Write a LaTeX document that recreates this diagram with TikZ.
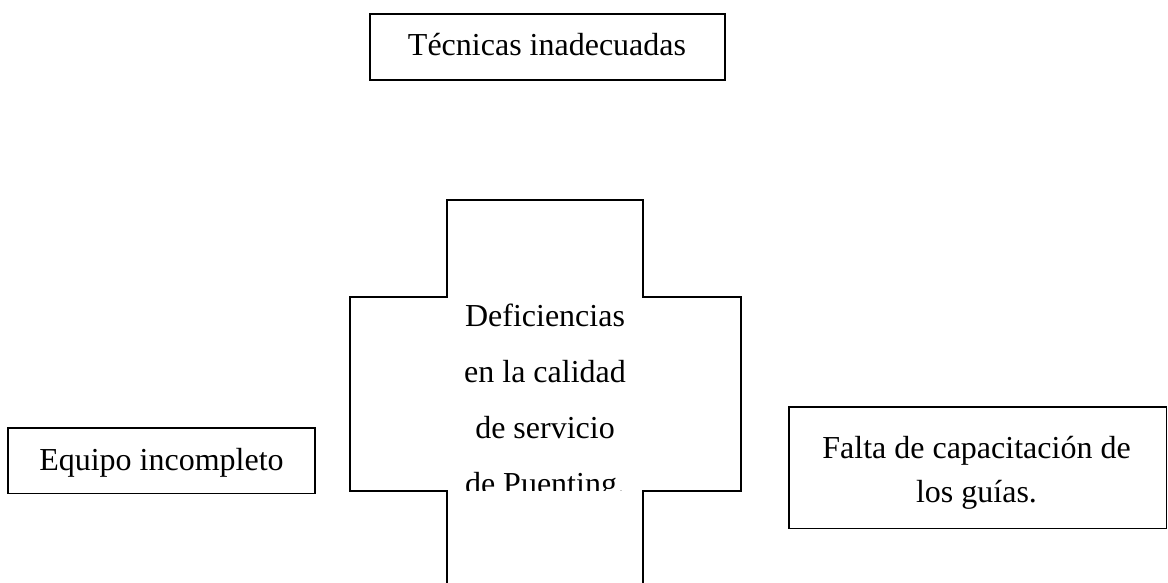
\documentclass[tikz,border=0pt]{standalone}
\usepackage{fontspec}
\setmainfont{Liberation Serif}
\begin{document}
\begin{tikzpicture}[x=1pt,y=-1pt,
  box/.style={draw=black, line width=1.6pt, inner sep=0pt},
  txt/.style={anchor=base, inner sep=0pt, font=\fontsize{32}{38}\selectfont}]
\useasboundingbox (0,0) rectangle (1168,582);
% boxes
\node[box, minimum width=355pt, minimum height=66pt] (tec) at (547.5,47) {};
\node[txt] (tect) at (547,55) {Técnicas inadecuadas};
\node[box, minimum width=307pt, minimum height=65.5pt] (equ) at (161.5,460.75) {};
\node[txt] (equt) at (161.5,470) {Equipo incompleto};
\node[box, minimum width=377.5pt, minimum height=121.6pt] (fal) at (977.75,467.5) {};
\node[txt] (falt1) at (976.5,458) {Falta de capacitación de};
\node[txt] (falt2) at (976.5,502) {los guías.};
% cross
\draw[line width=1.6pt, line join=miter] (447,583) -- (447,491) -- (350,491) -- (350,297) -- (447,297) -- (447,200)
  -- (643,200) -- (643,297) -- (741,297) -- (741,491) -- (643,491) -- (643,583);
\begin{scope}
\clip (351,298) rectangle (740,490.2);
\node[txt] (c1) at (545,326.7) {Deficiencias};
\node[txt] (c2) at (545,382.7) {en la calidad};
\node[txt] (c3) at (545,438.5) {de servicio};
\node[txt] (c4) at (545,494.5) {de Puenting.};
\end{scope}
\end{tikzpicture}
\end{document}
